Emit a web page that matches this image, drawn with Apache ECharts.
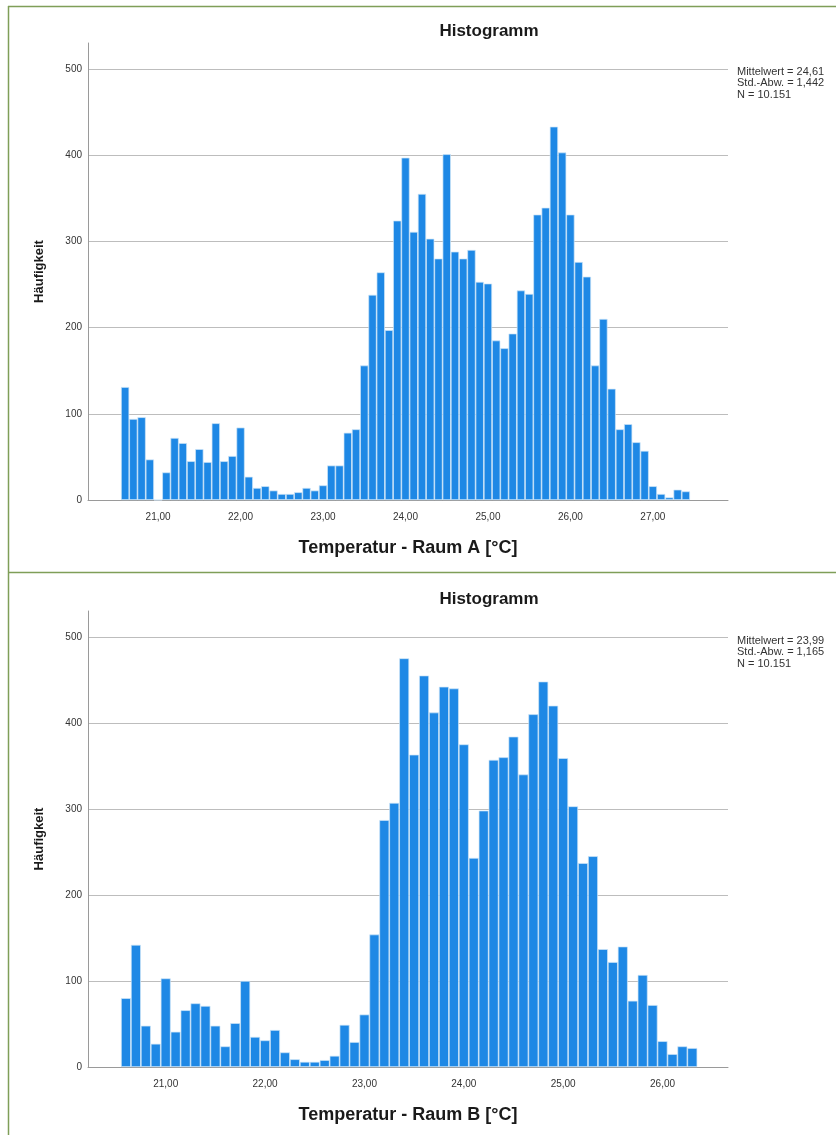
<!DOCTYPE html>
<html>
<head>
<meta charset="utf-8">
<title>Histogramm Raum A / Raum B</title>
<script src="https://cdn.jsdelivr.net/npm/echarts@6/dist/echarts.min.js"></script>
<style>
  html, body { margin: 0; padding: 0; background: #ffffff; }
  #chart { width: 836px; height: 1135px; }
</style>
</head>
<body>
<div id="chart"></div>
<script>
// Histogram bins: 0.1 °C wide, first bin starts at binStart
const binStart = 20.55;
const binWidth = 0.1;

// Frequencies per bin, Raum A
const countsA = [131, 94, 96, 47, 0, 32, 72, 66, 45, 59, 44, 89, 45, 51, 84, 27, 14, 16, 11, 7, 7, 9, 14, 11, 17,
  40, 40, 78, 82, 156, 238, 264, 197, 324, 397,
  311, 355, 303, 280, 401, 288, 280, 290, 253, 251,
  185, 176, 193, 243, 239, 331, 339, 433, 403, 331,
  276, 259, 156, 210, 129, 82, 88, 67, 57, 16, 7, 3, 12, 10];

// Frequencies per bin, Raum B
const countsB = [80, 142, 48, 27, 103, 41, 66, 74, 71, 48, 24, 51, 100, 35, 31, 43, 17, 9, 6, 6, 8, 13, 49, 29, 61,
  154, 287, 307, 475, 363, 455, 412, 442, 440, 375,
  243, 298, 357, 360, 384, 340, 410, 448, 420, 359,
  303, 237, 245, 137, 122, 140, 77, 107, 72, 30, 15, 24, 22];

// Axis tick labels
const xTicksA = [21, 22, 23, 24, 25, 26, 27];
const xTicksB = [21, 22, 23, 24, 25, 26];

// Texts
const chartTitle = 'Histogramm';
const yName = 'Häufigkeit';
const xNameA = 'Temperatur - Raum A [°C]';
const xNameB = 'Temperatur - Raum B [°C]';
const statsA = ['Mittelwert = 24,61', 'Std.-Abw. = 1,442', 'N = 10.151'];
const statsB = ['Mittelwert = 23,99', 'Std.-Abw. = 1,165', 'N = 10.151'];

const FONT = '"Liberation Sans", Arial, sans-serif';
const GRID_GRAY = '#bdbdbd';
const AXIS_GRAY = '#9a9a9a';
const BAR_BLUE = '#1e88e5';
const FRAME_GREEN = '#7f9e58';

function toBars(counts) {
  return counts.map((c, i) => [binStart + (i + 0.5) * binWidth, c]);
}

function fmt(v) {
  return v.toFixed(2).replace('.', ',');
}

function xAxisFor(gridIndex, min, max, ticks, name) {
  return {
    type: 'value', gridIndex, min, max, name,
    nameLocation: 'middle', nameGap: 39,
    nameTextStyle: { fontFamily: FONT, fontWeight: 'bold', fontSize: 18, color: '#1a1a1a' },
    axisLine: { show: true, onZero: false, lineStyle: { color: AXIS_GRAY, width: 1 } },
    axisTick: { show: false },
    splitLine: { show: false },
    axisLabel: {
      customValues: ticks, formatter: fmt, margin: 12,
      fontFamily: FONT, fontSize: 10, color: '#333333'
    }
  };
}

function yAxisFor(gridIndex) {
  return {
    type: 'value', gridIndex, min: 0, max: 530, interval: 100, name: yName,
    nameLocation: 'middle', nameGap: 42,
    nameTextStyle: { fontFamily: FONT, fontWeight: 'bold', fontSize: 13, color: '#1a1a1a' },
    axisLine: { show: true, lineStyle: { color: AXIS_GRAY, width: 1 } },
    axisTick: { show: false },
    axisLabel: { showMaxLabel: false, margin: 6, fontFamily: FONT, fontSize: 10, color: '#333333' },
    splitLine: {
      show: true,
      lineStyle: { width: 1, color: [GRID_GRAY, GRID_GRAY, GRID_GRAY, GRID_GRAY, GRID_GRAY, GRID_GRAY, 'rgba(0,0,0,0)'] }
    }
  };
}

function barSeries(idx, counts) {
  return {
    type: 'bar', xAxisIndex: idx, yAxisIndex: idx,
    data: toBars(counts), barWidth: '100%',
    itemStyle: { color: BAR_BLUE, borderColor: '#cfe5f8', borderWidth: 0.7 },
    emphasis: { disabled: true },
    silent: true
  };
}

function statText(y, lines) {
  return {
    type: 'text', x: 737, y,
    style: { text: lines.join('\n'), font: '11px ' + FONT, fill: '#333333', lineHeight: 11.5 }
  };
}

function titleText(y) {
  return {
    type: 'text', x: 489, y,
    style: { text: chartTitle, font: 'bold 17px ' + FONT, fill: '#1a1a1a', align: 'center', verticalAlign: 'middle' }
  };
}

const chart = echarts.init(document.getElementById('chart'), null, { renderer: 'canvas' });

chart.setOption({
  backgroundColor: '#ffffff',
  animation: false,
  grid: [
    { left: 88, top: 43, width: 640, height: 457 },
    { left: 88, top: 611, width: 640, height: 456 }
  ],
  xAxis: [
    xAxisFor(0, 20.150, 27.911, xTicksA, xNameA),
    xAxisFor(1, 20.218, 26.659, xTicksB, xNameB)
  ],
  yAxis: [yAxisFor(0), yAxisFor(1)],
  series: [barSeries(0, countsA), barSeries(1, countsB)],
  graphic: [
    // panel frame lines
    { type: 'line', shape: { x1: 8, y1: 6.5, x2: 836, y2: 6.5 }, style: { stroke: FRAME_GREEN, lineWidth: 1.5 } },
    { type: 'line', shape: { x1: 8.5, y1: 6, x2: 8.5, y2: 1135 }, style: { stroke: FRAME_GREEN, lineWidth: 1.5 } },
    { type: 'line', shape: { x1: 8, y1: 572.5, x2: 836, y2: 572.5 }, style: { stroke: FRAME_GREEN, lineWidth: 1.5 } },
    titleText(31),
    titleText(599),
    statText(66, statsA),
    statText(635, statsB)
  ]
});
</script>
</body>
</html>
